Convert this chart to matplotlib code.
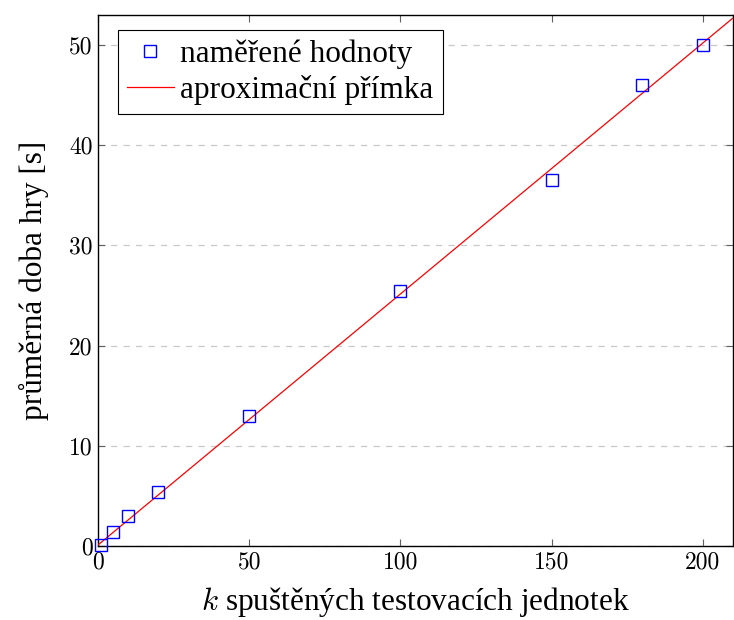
import numpy as np
import matplotlib.pyplot as plt

# measured values
k_units = [1, 5, 10, 20, 50, 100, 150, 180, 200]
avg_time = [0.1, 1.4, 3.0, 5.4, 13.0, 25.5, 36.5, 46.0, 50.0]

# fitted line
fit_slope = 0.2505
fit_intercept = 0.1
fit_x = [0, 210]

x_ticks = [0, 50, 100, 150, 200]
y_ticks = [0, 10, 20, 30, 40, 50]

plt.rcParams['font.family'] = ['Liberation Serif', 'DejaVu Serif']
plt.rcParams['mathtext.fontset'] = 'cm'

fig = plt.figure(figsize=(7.34, 6.2), dpi=100)
ax = fig.add_axes([0.1335, 0.1194, 0.8652, 0.8564])

fx = np.array(fit_x)
ax.plot(fx, fit_slope * fx + fit_intercept, color='red', lw=0.9,
        label='aproximační přímka', zorder=3)
ax.plot(k_units, avg_time, linestyle='none', marker='s', markersize=8,
        markerfacecolor='none', markeredgecolor='blue', markeredgewidth=1,
        label='naměřené hodnoty', zorder=4, clip_on=False)

ax.set_xlim(0, 210)
ax.set_ylim(0, 53)
ax.set_xticks(x_ticks)
ax.set_yticks(y_ticks)
ax.yaxis.grid(True, linestyle=(0, (5, 5)), color='#c8c8c8', lw=0.9)
ax.set_axisbelow(True)
ax.tick_params(direction='in', length=5, width=0.8, color='#606060',
               top=True, right=True, labelsize=17, pad=4)
# digits in Computer Modern like the original
for t in ax.get_xticklabels() + ax.get_yticklabels():
    t.set_fontfamily('cmr10')
for s in ax.spines.values():
    s.set_linewidth(1.0)

ax.set_xlabel('$k$ spuštěných testovacích jednotek', fontsize=22.5, labelpad=8)
ax.set_ylabel('průměrná doba hry [s]', fontsize=22.5, labelpad=14)

h, l = ax.get_legend_handles_labels()
leg = ax.legend(h[::-1], l[::-1], loc='upper left', fontsize=22.5,
                fancybox=False, edgecolor='black', framealpha=1,
                borderpad=0.3, handlelength=1.5, handletextpad=0.2,
                labelspacing=0.2, borderaxespad=0,
                bbox_to_anchor=(0.031, 0.972))
leg.get_frame().set_linewidth(0.8)

fig.savefig('out.png', dpi=100)
